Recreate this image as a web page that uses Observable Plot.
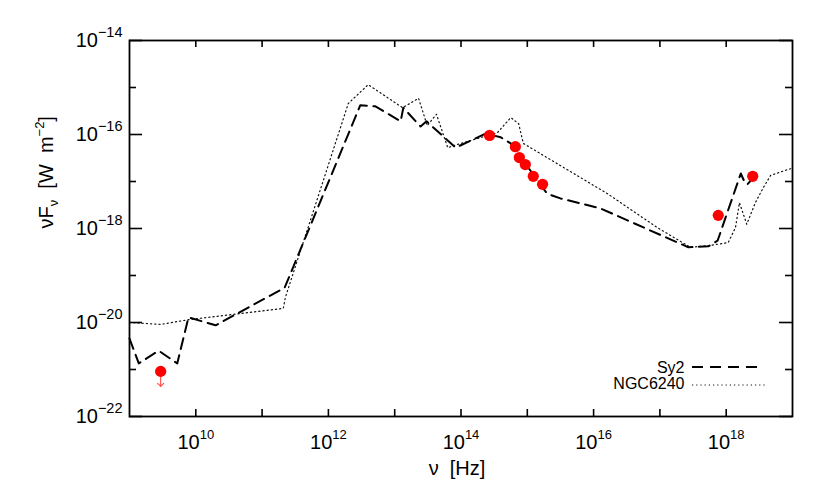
<!DOCTYPE html>
<html><head><meta charset="utf-8">
<script src="https://cdn.jsdelivr.net/npm/d3@7"></script>
<script src="https://cdn.jsdelivr.net/npm/@observablehq/plot@0.6"></script>
<style>
body{margin:0;background:#fff}
svg{font-family:"Liberation Sans",Arial,sans-serif}
</style>
</head><body><div id="chart"></div>
<script>
// Sy2 template (dashed) — log10(nu [Hz]) and log10(nuFnu [W m^-2])
const sy2LogNu = [9.00, 9.14, 9.44, 9.72, 9.89, 10.30, 11.34, 12.48, 12.71, 13.09, 13.13, 13.39, 13.48, 13.92, 14.37, 14.60, 14.75, 15.30, 15.50, 16.10, 17.43, 17.73, 17.87, 18.22, 18.28, 18.32, 18.37];
const sy2LogF  = [-20.34, -20.87, -20.60, -20.87, -19.89, -20.06, -19.26, -15.38, -15.40, -15.72, -15.43, -15.83, -15.72, -16.28, -15.98, -16.06, -16.19, -17.26, -17.36, -17.57, -18.40, -18.38, -18.26, -16.83, -17.02, -17.06, -16.98];
// NGC6240 template (dotted)
const ngcLogNu = [9.00, 9.47, 9.89, 11.32, 11.35, 12.30, 12.60, 13.12, 13.36, 13.49, 13.63, 13.80, 13.95, 14.55, 14.75, 14.87, 14.94, 16.21, 16.96, 17.46, 17.76, 18.03, 18.14, 18.20, 18.31, 18.44, 18.56, 18.67, 18.94, 19.00];
const ngcLogF  = [-20.00, -20.04, -19.94, -19.70, -19.47, -15.34, -14.94, -15.43, -15.23, -15.81, -15.57, -16.28, -16.21, -15.96, -15.64, -15.77, -16.19, -17.26, -17.98, -18.40, -18.36, -18.30, -17.98, -17.45, -17.91, -17.45, -17.13, -16.87, -16.74, -16.72];
// observed photometry (red dots)
const obsLogNu = [14.43, 14.82, 14.88, 14.97, 15.09, 15.23, 17.88, 18.40];
const obsLogF  = [-16.02, -16.26, -16.49, -16.64, -16.89, -17.06, -17.72, -16.89];
// upper limit
const limLogNu = [9.47];
const limLogF  = [-21.04];
// ticks (exponents)
const xTickExps  = [10, 11, 12, 13, 14, 15, 16, 17, 18];
const xLabelExps = [10, 12, 14, 16, 18];
const yMajorExps = [-14, -16, -18, -20, -22];
const yMinorExps = [-15, -17, -19, -21];
const legendNames = ["Sy2", "NGC6240"];

const W = 830, H = 499, mL = 129, mR = 38, mT = 40, mB = 83;
const fw = W - mL - mR, fh = H - mT - mB;

const toRows = (xs, ys) => xs.map((v, i) => ({nu: 10 ** v, f: 10 ** ys[i]}));
const sy2 = toRows(sy2LogNu, sy2LogF);
const ngc = toRows(ngcLogNu, ngcLogF);
const obs = toRows(obsLogNu, obsLogF);
const lim = toRows(limLogNu, limLogF);
const xTicks = xTickExps.map(e => 10 ** e);
const xLabels = xLabelExps.map(e => 10 ** e);
const yMajor = yMajorExps.map(e => 10 ** e);
const yMinor = yMinorExps.map(e => 10 ** e);
const expFmtX = d => "X10^" + Math.round(Math.log10(d));
const expFmtY = d => "Y10^" + Math.round(Math.log10(d));

const tk = {stroke: "#000", strokeWidth: 1.6};
const chart = Plot.plot({
  width: W, height: H,
  marginLeft: mL, marginRight: mR, marginTop: mT, marginBottom: mB,
  style: {background: "#fff", color: "#000", fontFamily: '"Liberation Sans", Arial, sans-serif'},
  x: {type: "log", domain: [1e9, 1e19], axis: null},
  y: {type: "log", domain: [1e-22, 1e-14], axis: null},
  marks: [
    Plot.line(ngc, {x: "nu", y: "f", stroke: "#111", strokeWidth: 1.2, strokeDasharray: "1.2,3"}),
    Plot.line(sy2, {x: "nu", y: "f", stroke: "#000", strokeWidth: 2, strokeDasharray: "11,6.5"}),
    Plot.vector(lim, {x: "nu", y: "f", length: 15, rotate: 180, anchor: "start", stroke: "#ff4a4a", strokeWidth: 1.1}),
    Plot.dot(obs, {x: "nu", y: "f", r: 5.6, fill: "#ff0000"}),
    Plot.dot(lim, {x: "nu", y: "f", r: 5.6, fill: "#ff0000"}),
    Plot.tickX(xTicks, {x: d => d, insetTop: fh - 7, ...tk}),
    Plot.tickX(xTicks, {x: d => d, insetBottom: fh - 7, ...tk}),
    Plot.tickY(yMajor, {y: d => d, insetRight: fw - 13, ...tk}),
    Plot.tickY(yMajor, {y: d => d, insetLeft: fw - 13, ...tk}),
    Plot.tickY(yMinor, {y: d => d, insetRight: fw - 7, ...tk}),
    Plot.tickY(yMinor, {y: d => d, insetLeft: fw - 7, ...tk}),
    Plot.frame({stroke: "#000", strokeWidth: 1.8}),
    Plot.axisX(xLabels, {tickSize: 0, tickPadding: 18, fontSize: 20, tickFormat: expFmtX, label: null}),
    Plot.axisY(yMajor, {tickSize: 0, tickPadding: 7, fontSize: 20, tickFormat: expFmtY, label: null}),
    Plot.text(["XTITLE"], {text: d => d, frameAnchor: "bottom", dy: 58, dx: -4, lineAnchor: "bottom", fontSize: 20}),
    Plot.text(["YTITLE"], {text: d => d, frameAnchor: "left", dx: -83, rotate: -90, fontSize: 20}),
    Plot.text([legendNames[0]], {text: d => d, frameAnchor: "bottom-right", dx: -108, dy: -44, lineAnchor: "bottom", textAnchor: "end", fontSize: 16}),
    Plot.text([legendNames[1]], {text: d => d, frameAnchor: "bottom-right", dx: -108, dy: -28, lineAnchor: "bottom", textAnchor: "end", fontSize: 16})
  ]
});
document.getElementById("chart").appendChild(chart);

const NS = "http://www.w3.org/2000/svg";
function rich(el, parts) {
  el.textContent = "";
  el.style.whiteSpace = "pre";
  for (const p of parts) {
    const ts = document.createElementNS(NS, "tspan");
    if (p.dy) ts.setAttribute("dy", p.dy);
    if (p.size) ts.setAttribute("font-size", p.size);
    ts.textContent = p.t;
    el.appendChild(ts);
  }
}
chart.querySelectorAll("text").forEach(el => {
  const s = el.textContent;
  const m = s.match(/^([XY])10\^(-?\d+)$/);
  if (m) {
    const e = m[2].replace("-", "\u2212");
    rich(el, [{t: "10"}, {t: e, dy: -10, size: m[1] === "X" ? 13 : 14.5}]);
  } else if (s === "XTITLE") {
    rich(el, [{t: "\u03bd  [Hz]"}]);
  } else if (s === "YTITLE") {
    rich(el, [{t: "\u03bdF"}, {t: "\u03bd", dy: 5, size: 13}, {t: "  [W  m", dy: -5}, {t: "\u22122", dy: -9, size: 13}, {t: "]", dy: 9}]);
  }
});

// legend swatches
const svg = d3.select(chart);
const g = svg.append("g").attr("aria-label", "legend swatches");
g.append("line").attr("x1", 692).attr("x2", 757).attr("y1", 367).attr("y2", 367)
  .attr("stroke", "#000").attr("stroke-width", 2).attr("stroke-dasharray", "11,7");
g.append("line").attr("x1", 692).attr("x2", 765).attr("y1", 385).attr("y2", 385)
  .attr("stroke", "#111").attr("stroke-width", 1.2).attr("stroke-dasharray", "1.2,3");
</script>
</body></html>
